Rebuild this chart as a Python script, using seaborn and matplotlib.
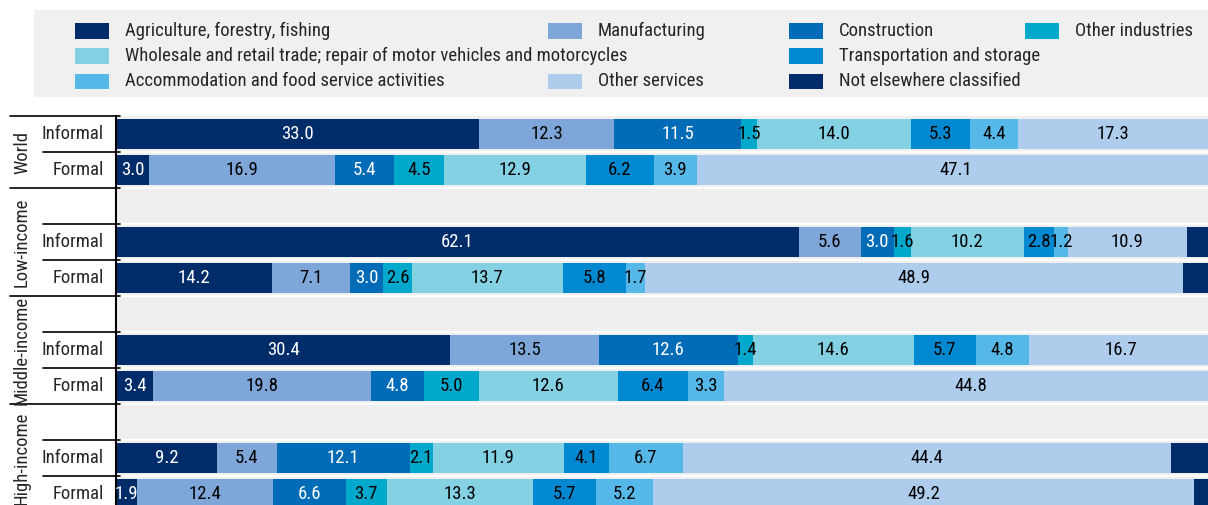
import pandas as pd
import matplotlib.pyplot as plt
from matplotlib import font_manager
from matplotlib.patches import Rectangle
import seaborn as sns

# rows: World, Low-income, Middle-income, High-income x (Informal, Formal)
groups = ["World", "Low-income", "Middle-income", "High-income"]
kinds = ["Informal", "Formal"]

agriculture = [33.0, 3.0, 62.1, 14.2, 30.4, 3.4, 9.2, 1.9]
manufacturing = [12.3, 16.9, 5.6, 7.1, 13.5, 19.8, 5.4, 12.4]
construction = [11.5, 5.4, 3.0, 3.0, 12.6, 4.8, 12.1, 6.6]
other_industries = [1.5, 4.5, 1.6, 2.6, 1.4, 5.0, 2.1, 3.7]
wholesale = [14.0, 12.9, 10.2, 13.7, 14.6, 12.6, 11.9, 13.3]
transport = [5.3, 6.2, 2.8, 5.8, 5.7, 6.4, 4.1, 5.7]
accommodation = [4.4, 3.9, 1.2, 1.7, 4.8, 3.3, 6.7, 5.2]
other_services = [17.3, 47.1, 10.9, 48.9, 16.7, 44.8, 44.4, 49.2]
not_classified = [0.7, 0.1, 2.6, 3.0, 0.3, 0.0, 4.1, 2.0]

sectors = ["Agriculture, forestry, fishing", "Manufacturing", "Construction", "Other industries",
           "Wholesale and retail trade; repair of motor vehicles and motorcycles",
           "Transportation and storage", "Accommodation and food service activities",
           "Other services", "Not elsewhere classified"]
series = [agriculture, manufacturing, construction, other_industries, wholesale,
          transport, accommodation, other_services, not_classified]
colors = ["#002d6a", "#7ea6d8", "#006bb6", "#00a8cc", "#84d1e4",
          "#0089d0", "#55b8e8", "#aecdec", "#002d6a"]
label_colors = ["white", "black", "white", "black", "black", "black", "black", "black", None]

sns.set_style("white")

# the original uses a condensed sans; use one if installed, otherwise shrink a bit
font_name, fs = "Liberation Sans", 12
for fam in ["Liberation Sans Narrow", "Roboto Condensed", "Arial Narrow"]:
    try:
        font_manager.findfont(fam, fallback_to_default=False)
        font_name, fs = fam, 13.5
        break
    except ValueError:
        pass
plt.rcParams['font.family'] = [font_name, 'DejaVu Sans']

# category order with an empty slot before each income group
order = []
row_keys = []
for i, g in enumerate(groups):
    if i > 0:
        order.append(f"gap{i}")
    for k in kinds:
        order.append(f"{g}|{k}")
        row_keys.append(f"{g}|{k}")

df = pd.DataFrame({"row": row_keys})
for name, vals in zip(sectors, series):
    df[name] = vals
cum = df[sectors].cumsum(axis=1)

W, H = 1208, 505
fig = plt.figure(figsize=(W / 100, H / 100), dpi=100)
ax = fig.add_axes([116 / W, 1 - 512 / H, 1100 / W, 396 / H])
ax.set_facecolor("#efefef")

# stacked bars: draw cumulative totals from last to first
for j in range(len(sectors) - 1, -1, -1):
    plot_df = pd.DataFrame({"row": df["row"], "val": cum[sectors[j]]})
    sns.barplot(data=plot_df, x="val", y="row", order=order, orient="h", color=colors[j],
                saturation=1, width=0.83, errorbar=None, linewidth=0, ax=ax)

pos = {key: order.index(key) for key in order}
for i, key in enumerate(row_keys):
    left = 0.0
    for j, name in enumerate(sectors):
        v = df.loc[i, name]
        if label_colors[j] is not None:
            ax.text(left + v / 2, pos[key], f"{v:.1f}", ha="center", va="center",
                    fontsize=fs, color=label_colors[j])
        left += v

ax.set_xlim(0, 100)
ax.set_ylim(len(order) - 0.5, -0.5)
for k in range(len(order) - 1):
    ax.axhline(k + 0.5, color="white", lw=1.6, zorder=0.5)
ax.set_xlabel("")
ax.set_ylabel("")
ax.set_xticks([])
ax.set_yticks([])
for s in ["top", "right", "bottom"]:
    ax.spines[s].set_visible(False)
ax.spines["left"].set_color("black")
ax.spines["left"].set_linewidth(1.5)

# two-level category axis
tr = ax.get_yaxis_transform()
for key in row_keys:
    ax.text(-12 / 1100, pos[key], key.split("|")[1], transform=tr, ha="right", va="center",
            fontsize=fs, clip_on=False)
group_bounds = [-0.5, 1.5, 4.5, 7.5, 10.5]
for i, g in enumerate(groups):
    ax.text(-94 / 1100, (group_bounds[i] + group_bounds[i + 1]) / 2, g, transform=tr,
            rotation=90, ha="center", va="center", fontsize=fs, clip_on=False)
for b in group_bounds:
    ax.plot([-106 / 1100, 4 / 1100], [b, b], transform=tr, color="black", lw=1.2, clip_on=False)
for k in range(len(order) - 1):
    b = k + 0.5
    if b not in group_bounds:
        ax.plot([-73 / 1100, 4 / 1100], [b, b], transform=tr, color="black", lw=1.2, clip_on=False)

# legend panel
def fx(px):
    return px / W

def fy(py):
    return 1 - py / H

fig.add_artist(Rectangle((fx(34), fy(97)), fx(1220) - fx(34), 87 / H, transform=fig.transFigure,
                         facecolor="#f0f0f0", edgecolor="none", zorder=0))
legend_layout = [
    (0, 75, 31), (1, 548, 31), (2, 789, 31), (3, 1025, 31),
    (4, 75, 56), (5, 789, 56),
    (6, 75, 81.5), (7, 548, 81.5), (8, 789, 81.5),
]
for j, px, py in legend_layout:
    fig.add_artist(Rectangle((fx(px), fy(py + 7.5)), 34 / W, 15 / H, transform=fig.transFigure,
                             facecolor=colors[j], edgecolor="none"))
    fig.text(fx(px + 50), fy(py), sectors[j], ha="left", va="center", fontsize=fs)

fig.savefig("out.png", dpi=100)
